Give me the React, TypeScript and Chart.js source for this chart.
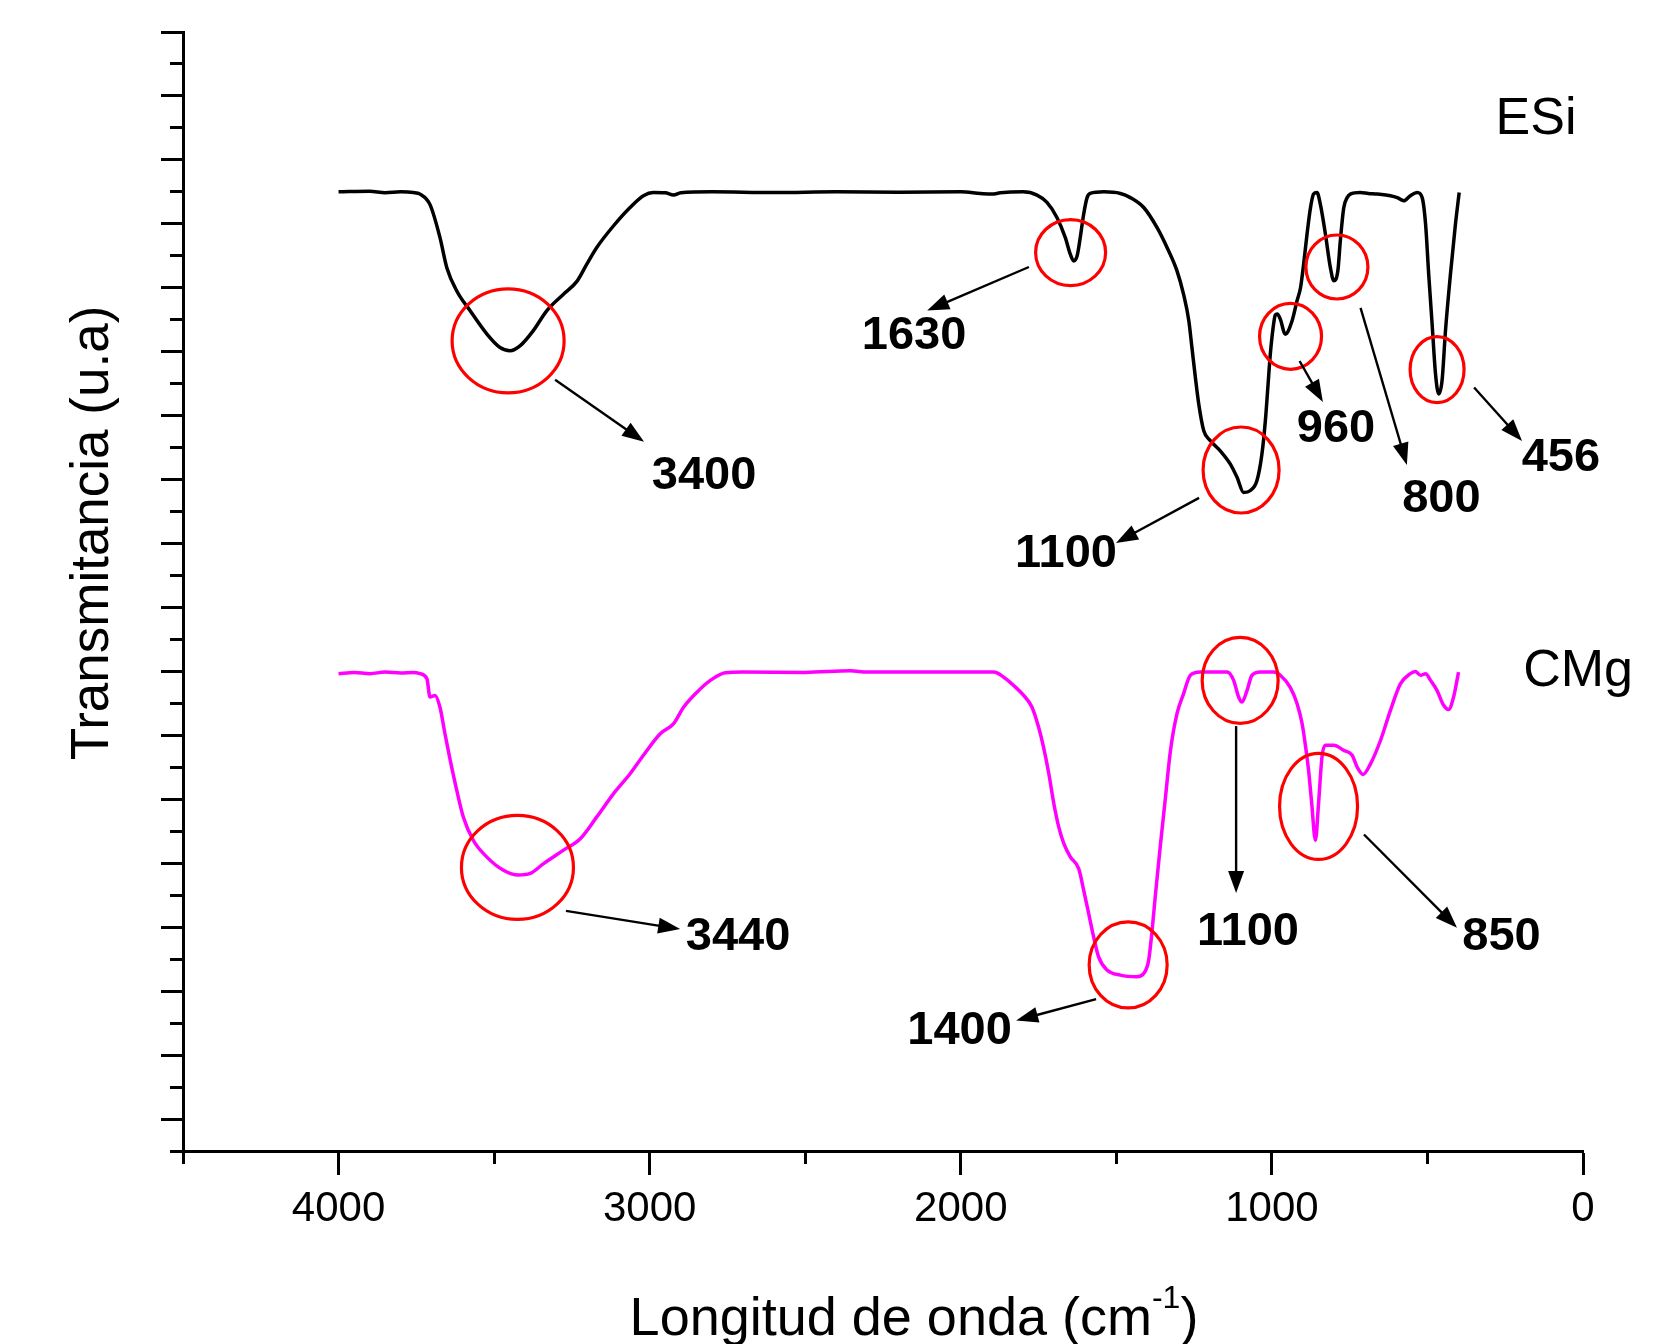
import React, { useEffect, useRef } from 'react';
import { Chart, registerables } from 'chart.js';

Chart.register(...registerables);

const FONT = "'Liberation Sans', Arial, Helvetica, sans-serif";

// ---- Spectrum ESi (black) ----
const esiWavenumber = [
  4000, 3900, 3850, 3800, 3760, 3738, 3706, 3674, 3652, 3620, 3577, 3523, 3481, 3449, 3416, 3374, 3331,
  3277, 3234, 3202, 3170, 3116, 3063, 3020, 2988, 2950, 2923, 2900, 2800, 2600, 2400, 2200, 2000, 1937,
  1900, 1873, 1800, 1755, 1723, 1691, 1664, 1648, 1637, 1626, 1616, 1605, 1594, 1584, 1540, 1487, 1455,
  1412, 1369, 1337, 1305, 1284, 1267, 1257, 1246, 1235, 1219, 1198, 1166, 1134, 1112, 1091, 1069, 1048,
  1032, 1021, 1013, 1005, 996, 989, 983, 973, 957, 935, 919, 908, 898, 887, 876, 866, 855, 844, 828, 812,
  801, 788, 780, 769, 758, 748, 716, 690, 662, 619, 597, 576, 555, 533, 517, 506, 496, 485, 474, 464,
  453, 442, 426, 410, 398,
];
const esiTransmittance = [
  30.0, 30.02, 29.97, 30.0, 29.98, 29.93, 29.6, 28.57, 27.63, 26.9, 26.28, 25.55, 25.13, 25.03, 25.19, 25.66, 26.28,
  26.8, 27.2, 27.74, 28.26, 28.94, 29.51, 29.88, 29.98, 29.97, 29.9, 29.97, 30.0, 29.98, 30.0, 29.99, 30.0, 29.95,
  29.93, 29.97, 30.0, 29.9, 29.67, 29.2, 28.57, 28.05, 27.84, 28.0, 28.57, 29.3, 29.82, 29.95, 30.0, 29.95, 29.82,
  29.51, 28.88, 28.26, 27.53, 26.8, 25.97, 25.13, 24.2, 23.36, 22.53, 22.22, 21.9, 21.49, 21.07, 20.6, 20.66, 20.97,
  21.8, 22.84, 23.88, 24.93, 25.76, 26.15, 26.18, 26.02, 25.55, 25.97, 26.6, 27.0, 27.74, 28.68, 29.5, 29.93, 29.98, 29.6, 28.68, 27.63,
  27.22, 27.53, 28.47, 29.5, 29.82, 29.93, 29.98, 29.95, 29.93, 29.88, 29.82, 29.72, 29.88, 29.98, 29.82, 28.99, 27.43, 25.87, 24.3, 23.68,
  24.1, 25.66, 27.43, 28.99, 29.98,
];

// ---- Spectrum CMg (magenta) ----
const cmgWavenumber = [
  4000, 3950, 3900, 3850, 3800, 3760, 3738, 3716, 3706, 3690, 3674, 3658, 3641, 3620, 3599, 3567, 3524,
  3470, 3422, 3384, 3341, 3277, 3223, 3170, 3116, 3063, 3020, 2966, 2923, 2891, 2848, 2805, 2757, 2700,
  2500, 2355, 2300, 2100, 1950, 1894, 1862, 1830, 1798, 1771, 1750, 1734, 1717, 1701, 1685, 1669, 1648,
  1621, 1605, 1589, 1573, 1557, 1530, 1487, 1434, 1412, 1396, 1385, 1375, 1359, 1342, 1326, 1305, 1284,
  1262, 1230, 1144, 1123, 1107, 1096, 1080, 1064, 1037, 994, 973, 941, 919, 903, 893, 882, 872, 860, 850,
  839, 828, 801, 769, 742, 726, 707, 683, 651, 619, 587, 555, 539, 522, 506, 490, 469, 448, 432, 416, 400,
];
const cmgTransmittance = [
  14.93, 14.97, 14.93, 14.98, 14.95, 14.97, 14.93, 14.77, 14.2, 14.25, 13.88, 13.05, 12.22, 11.28, 10.45, 9.72, 9.2,
  8.78, 8.63, 8.68, 8.99, 9.41, 9.77, 10.45, 11.18, 11.8, 12.38, 13.05, 13.37, 13.88, 14.35, 14.72, 14.96, 14.98,
  14.97, 15.02, 14.98, 14.98, 14.98, 14.98, 14.82, 14.56, 14.25, 13.88, 13.26, 12.63, 11.8, 10.87, 10.13, 9.62, 9.2,
  8.83, 8.16, 7.43, 6.7, 6.07, 5.66, 5.5, 5.45, 5.55, 5.97, 6.9, 7.95, 9.51, 11.07, 12.53, 13.68, 14.3,
  14.88, 14.98, 14.98, 14.72, 14.2, 14.04, 14.4, 14.88, 14.98, 14.98, 14.88, 14.5, 13.99, 13.37, 12.74, 11.9, 10.87, 9.72, 10.87,
  12.32, 12.69, 12.69, 12.53, 12.38, 12.01, 11.78, 12.11, 12.84, 13.78, 14.61, 14.93, 15.0, 14.88, 14.93, 14.72, 14.4, 13.94, 13.81, 14.2, 14.98,
];

// ---- Axis ticks ----
const xLabelledTicks = [0, 1000, 2000, 3000, 4000];

// ---- Series names (placed in data coordinates) ----
const seriesNames = ['ESi', 'CMg'];
const seriesNameX = [151, 16];
const seriesNameY = [32.25, 14.98];

// ---- Peak annotations (data coordinates) ----
const peakLabels = ['3400', '1630', '1100', '960', '800', '456', '3440', '1400', '1100', '850'];
const peakLabelX = [2825, 2150, 1662, 794, 455, 71, 2716, 2004, 1077, 262];
const peakLabelY = [21.11, 25.48, 18.67, 22.57, 20.39, 21.66, 6.69, 3.75, 6.85, 6.69];
const circleX = [3455, 1647, 1099, 940, 791, 469, 3425, 1462, 1102, 850];
const circleY = [25.34, 28.1, 21.3, 25.48, 27.65, 24.44, 8.87, 5.82, 14.72, 10.78];
const circleRx = [56, 35, 38, 31, 31, 27, 56, 39, 38, 39];
const circleRy = [52, 33, 43, 33, 32, 33, 52, 43, 43, 53];
const arrowFromX = [3304, 1781, 1234, 911, 715, 350, 3269, 1565, 1115, 704];
const arrowFromY = [24.12, 27.65, 20.43, 24.71, 26.37, 23.88, 7.51, 4.75, 13.29, 9.9];
const arrowToX = [3018, 2108, 1501, 836, 566, 196, 2902, 1822, 1115, 405];
const arrowToY = [22.18, 26.29, 19.02, 23.43, 21.46, 22.21, 6.94, 4.08, 8.07, 6.98];

function drawArrow(ctx: CanvasRenderingContext2D, x1: number, y1: number, x2: number, y2: number) {
  const ang = Math.atan2(y2 - y1, x2 - x1);
  const c = Math.cos(ang);
  const s = Math.sin(ang);
  const headLen = 22;
  const headW = 8;
  ctx.beginPath();
  ctx.moveTo(x1, y1);
  ctx.lineTo(x2 - c * headLen * 0.8, y2 - s * headLen * 0.8);
  ctx.stroke();
  ctx.beginPath();
  ctx.moveTo(x2, y2);
  ctx.lineTo(x2 - headLen * c + headW * s, y2 - headLen * s - headW * c);
  ctx.lineTo(x2 - headLen * c - headW * s, y2 - headLen * s + headW * c);
  ctx.closePath();
  ctx.fill();
}

const decorPlugin = {
  id: 'ftirDecor',
  beforeDraw(chart: any) {
    const { ctx, width, height } = chart;
    ctx.save();
    ctx.fillStyle = '#ffffff';
    ctx.fillRect(0, 0, width, height);
    ctx.restore();
  },
  afterDraw(chart: any) {
    const { ctx } = chart;
    const xs = chart.scales.x;
    const ys = chart.scales.y;
    ctx.save();

    // red circles
    ctx.strokeStyle = '#ff0000';
    ctx.lineWidth = 3.2;
    for (let i = 0; i < circleX.length; i++) {
      ctx.beginPath();
      ctx.ellipse(xs.getPixelForValue(circleX[i]), ys.getPixelForValue(circleY[i]), circleRx[i], circleRy[i], 0, 0, Math.PI * 2);
      ctx.stroke();
    }

    // arrows
    ctx.strokeStyle = '#000000';
    ctx.fillStyle = '#000000';
    ctx.lineWidth = 2.4;
    for (let i = 0; i < arrowFromX.length; i++) {
      drawArrow(
        ctx,
        xs.getPixelForValue(arrowFromX[i]),
        ys.getPixelForValue(arrowFromY[i]),
        xs.getPixelForValue(arrowToX[i]),
        ys.getPixelForValue(arrowToY[i]),
      );
    }

    // peak labels
    ctx.font = `bold 47px ${FONT}`;
    ctx.textAlign = 'center';
    ctx.textBaseline = 'middle';
    for (let i = 0; i < peakLabels.length; i++) {
      ctx.fillText(peakLabels[i], xs.getPixelForValue(peakLabelX[i]), ys.getPixelForValue(peakLabelY[i]));
    }

    // series names
    ctx.font = `52px ${FONT}`;
    for (let i = 0; i < seriesNames.length; i++) {
      ctx.fillText(seriesNames[i], xs.getPixelForValue(seriesNameX[i]), ys.getPixelForValue(seriesNameY[i]));
    }

    // y axis title
    ctx.save();
    ctx.translate(93, 533);
    ctx.rotate(-Math.PI / 2);
    ctx.font = `53px ${FONT}`;
    ctx.textAlign = 'center';
    ctx.textBaseline = 'middle';
    ctx.fillText('Transmitancia (u.a)', 0, 0);
    ctx.restore();

    // x axis title with superscript
    const main = 'Longitud de onda (cm';
    const sup = '-1';
    const close = ')';
    ctx.textAlign = 'left';
    ctx.textBaseline = 'alphabetic';
    ctx.font = `54px ${FONT}`;
    const w1 = ctx.measureText(main).width;
    const w3 = ctx.measureText(close).width;
    ctx.font = `32px ${FONT}`;
    const w2 = ctx.measureText(sup).width;
    const total = w1 + w2 + w3;
    const start = 914 - total / 2;
    const base = 1335;
    ctx.font = `54px ${FONT}`;
    ctx.fillText(main, start, base);
    ctx.fillText(close, start + w1 + w2, base);
    ctx.font = `32px ${FONT}`;
    ctx.fillText(sup, start + w1, base - 27);

    ctx.restore();
  },
};

export default function App() {
  const canvasRef = useRef<HTMLCanvasElement | null>(null);

  useEffect(() => {
    const canvas = canvasRef.current;
    if (!canvas) return;
    const chart = new Chart(canvas, {
      type: 'line',
      data: {
        datasets: [
          {
            label: 'ESi',
            data: esiWavenumber.map((w, i) => ({ x: w, y: esiTransmittance[i] })),
            borderColor: '#000000',
            borderWidth: 3.5,
            pointRadius: 0,
            fill: false,
            cubicInterpolationMode: 'monotone',
          },
          {
            label: 'CMg',
            data: cmgWavenumber.map((w, i) => ({ x: w, y: cmgTransmittance[i] })),
            borderColor: '#ff00ff',
            borderWidth: 3.5,
            pointRadius: 0,
            fill: false,
            cubicInterpolationMode: 'monotone',
          },
        ],
      },
      options: {
        responsive: false,
        animation: false,
        events: [],
        layout: { padding: { top: 32, right: 84, left: 0, bottom: 0 } },
        plugins: {
          legend: { display: false },
          tooltip: { enabled: false },
          title: { display: false },
        },
        scales: {
          x: {
            type: 'linear',
            min: 0,
            max: 4500,
            reverse: true,
            border: { display: true, color: '#000000', width: 3 },
            grid: {
              drawOnChartArea: false,
              drawTicks: true,
              tickLength: 24,
              tickWidth: 3,
              tickColor: '#000000',
              tickBorderDash: (ctx: any) => (xLabelledTicks.includes(ctx.tick?.value) ? [] : [11, 60]),
            },
            ticks: {
              stepSize: 500,
              autoSkip: false,
              maxRotation: 0,
              padding: 9,
              color: '#000000',
              font: { family: FONT, size: 42 },
              callback: (value: any) => (xLabelledTicks.includes(Number(value)) ? String(value) : ''),
            },
            afterFit: (scale: any) => {
              scale.height = 193;
            },
          },
          y: {
            type: 'linear',
            min: 0,
            max: 35,
            border: { display: true, color: '#000000', width: 3 },
            grid: {
              drawOnChartArea: false,
              drawTicks: true,
              tickLength: 22,
              tickWidth: 3,
              tickColor: '#000000',
              tickBorderDash: (ctx: any) => (Math.round(ctx.tick?.value ?? 0) % 2 === 1 ? [] : [0, 9, 20, 0]),
            },
            ticks: {
              stepSize: 1,
              display: false,
            },
            afterFit: (scale: any) => {
              scale.width = 183;
            },
          },
        },
      },
      plugins: [decorPlugin],
    } as any);
    return () => chart.destroy();
  }, []);

  return (
    <div style={{ position: 'absolute', left: 0, top: 0, width: 1667, height: 1344, background: '#fff' }}>
      <canvas ref={canvasRef} width={1667} height={1344} style={{ display: 'block', width: 1667, height: 1344 }} />
    </div>
  );
}
